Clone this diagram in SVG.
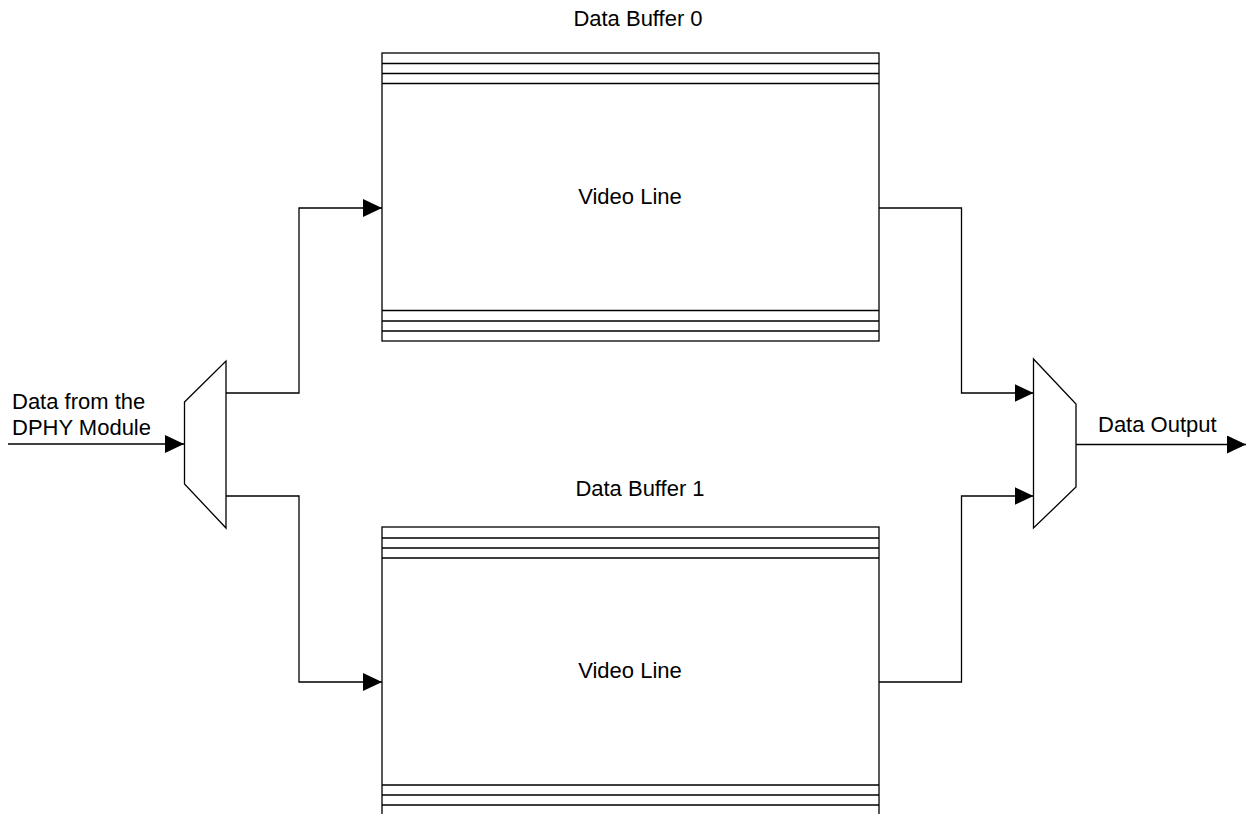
<svg xmlns="http://www.w3.org/2000/svg" width="1246" height="814" viewBox="0 0 1246 814">
<style>
.s{fill:#fff;stroke:#000;stroke-width:1.3}
.l{fill:none;stroke:#000;stroke-width:1.3}
.c{fill:none;stroke:#000;stroke-width:1.3;marker-end:url(#ah)}
text{font-family:"Liberation Sans",Arial,sans-serif;font-size:22px;fill:#000}
.m{text-anchor:middle}
</style>
<defs>
<marker id="ah" markerWidth="19" markerHeight="18" refX="19" refY="9" orient="auto" markerUnits="userSpaceOnUse">
<path d="M0,0 L19,9 L0,18 Z" fill="#000"/>
</marker>
</defs>
<rect width="1246" height="814" fill="#fff"/>
<g id="buffer0">
<rect class="s" x="382" y="53" width="497" height="288"/>
<path class="l" d="M382,63.5H879M382,73.5H879M382,83.5H879M382,310.5H879M382,321H879M382,331H879"/>
<text class="m" x="638" y="26">Data Buffer 0</text>
<text class="m" x="630" y="204">Video Line</text>
</g>
<g id="buffer1">
<rect class="s" x="382" y="527" width="497" height="290"/>
<path class="l" d="M382,538H879M382,548H879M382,558H879M382,785H879M382,795H879M382,805H879"/>
<text class="m" x="640" y="496">Data Buffer 1</text>
<text class="m" x="630" y="678">Video Line</text>
</g>
<g id="demux">
<polygon class="s" points="184.5,402 226,361 226,528 184.5,484"/>
</g>
<g id="mux">
<polygon class="s" points="1033.5,359 1076,404 1076,487 1033.5,528"/>
</g>
<g id="labels">
<text x="12" y="409">Data from the</text>
<text x="12" y="435">DPHY Module</text>
<text x="1098" y="432">Data Output</text>
</g>
<g id="connectors">
<path class="c" d="M8,444H184"/>
<path class="c" d="M226,393H299V208H382"/>
<path class="c" d="M226,496H299V682H382"/>
<path class="c" d="M879,208H961.5V393H1033.5"/>
<path class="c" d="M879,682H961.5V496H1033.5"/>
<path class="c" d="M1076,444.5H1246"/>
</g>
</svg>
